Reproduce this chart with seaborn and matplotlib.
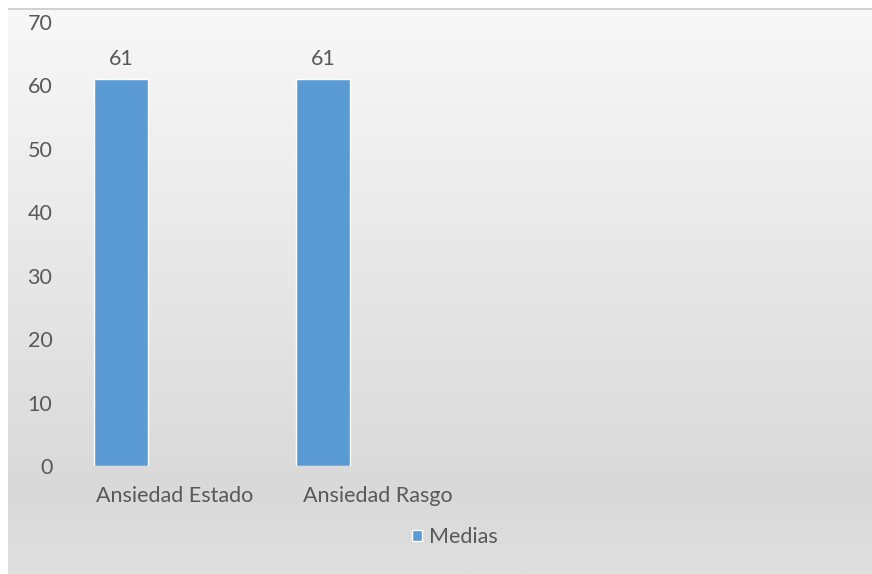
import numpy as np
import pandas as pd
import matplotlib
matplotlib.use("Agg")
import matplotlib.pyplot as plt
import seaborn as sns
from matplotlib.colors import LinearSegmentedColormap

categories = ["Ansiedad Estado", "Ansiedad Rasgo"]
values = [61, 61]
series_name = "Medias"
hue_levels = ["Medias", "_s2", "_s3"]
y_ticks = [0, 10, 20, 30, 40, 50, 60, 70]

sns.set_theme(style="white")
plt.rcParams['font.family'] = ['Lato', 'DejaVu Sans']

FS = 15.5
TXT = "#595959"

fig = plt.figure(figsize=(8.72, 5.74), dpi=100)
fig.patch.set_facecolor("white")

# background gradient panel
bg = fig.add_axes([0.009, 0.0, 0.991, 0.986], zorder=0)
grad = np.linspace(0, 1, 256).reshape(-1, 1)
cmap = LinearSegmentedColormap.from_list(
    "bg", [(0, "#f8f8f8"), (0.85, "#d9d9d9"), (1.0, "#dfdfdf")])
bg.imshow(grad, aspect="auto", cmap=cmap, extent=[0, 1, 0, 1], origin="upper")
bg.plot([0, 1], [1, 1], color="#d0d0d0", lw=2, transform=bg.transAxes)
bg.set_axis_off()

ax = fig.add_axes([0.0745, 0.188, 0.92, 0.774], zorder=1)
ax.set_facecolor("none")

rows = []
for c, v in zip(categories, values):
    rows.append({"cat": c, "val": v, "serie": series_name})
    for h in hue_levels[1:]:
        rows.append({"cat": c, "val": np.nan, "serie": h})
df = pd.DataFrame(rows)

sns.barplot(data=df, x="cat", y="val", hue="serie", hue_order=hue_levels,
            palette={"Medias": "#5b9bd5", "_s2": "#ed7d31", "_s3": "#a5a5a5"},
            order=categories, ax=ax, saturation=1, width=0.8, dodge=True,
            legend=True, errorbar=None)

for cont in ax.containers:
    dv = cont.datavalues
    ax.bar_label(cont, labels=["" if np.isnan(v) else f"{v:g}" for v in dv],
                 padding=7, fontsize=FS, color=TXT)

ax.set_ylim(0, 70)
ax.set_yticks(y_ticks)
ax.set_xlim(-0.543, 3.42)
ax.set_xlabel("")
ax.set_ylabel("")
for s in ax.spines.values():
    s.set_visible(False)
ax.tick_params(axis="y", labelsize=FS, labelcolor=TXT, length=0, pad=9)
ax.tick_params(axis="x", labelsize=FS, labelcolor=TXT, length=0, pad=14)

handles, labels = ax.get_legend_handles_labels()
keep = [(h, l) for h, l in zip(handles, labels) if l == series_name]
if ax.get_legend() is not None:
    ax.get_legend().remove()
fig.legend([k[0] for k in keep], [k[1] for k in keep], loc="center",
           bbox_to_anchor=(455 / 872, 1 - 537 / 574), frameon=False,
           fontsize=FS, labelcolor=TXT, handlelength=0.45, handleheight=0.45,
           handletextpad=0.35)

fig.savefig("out.png", dpi=100)
